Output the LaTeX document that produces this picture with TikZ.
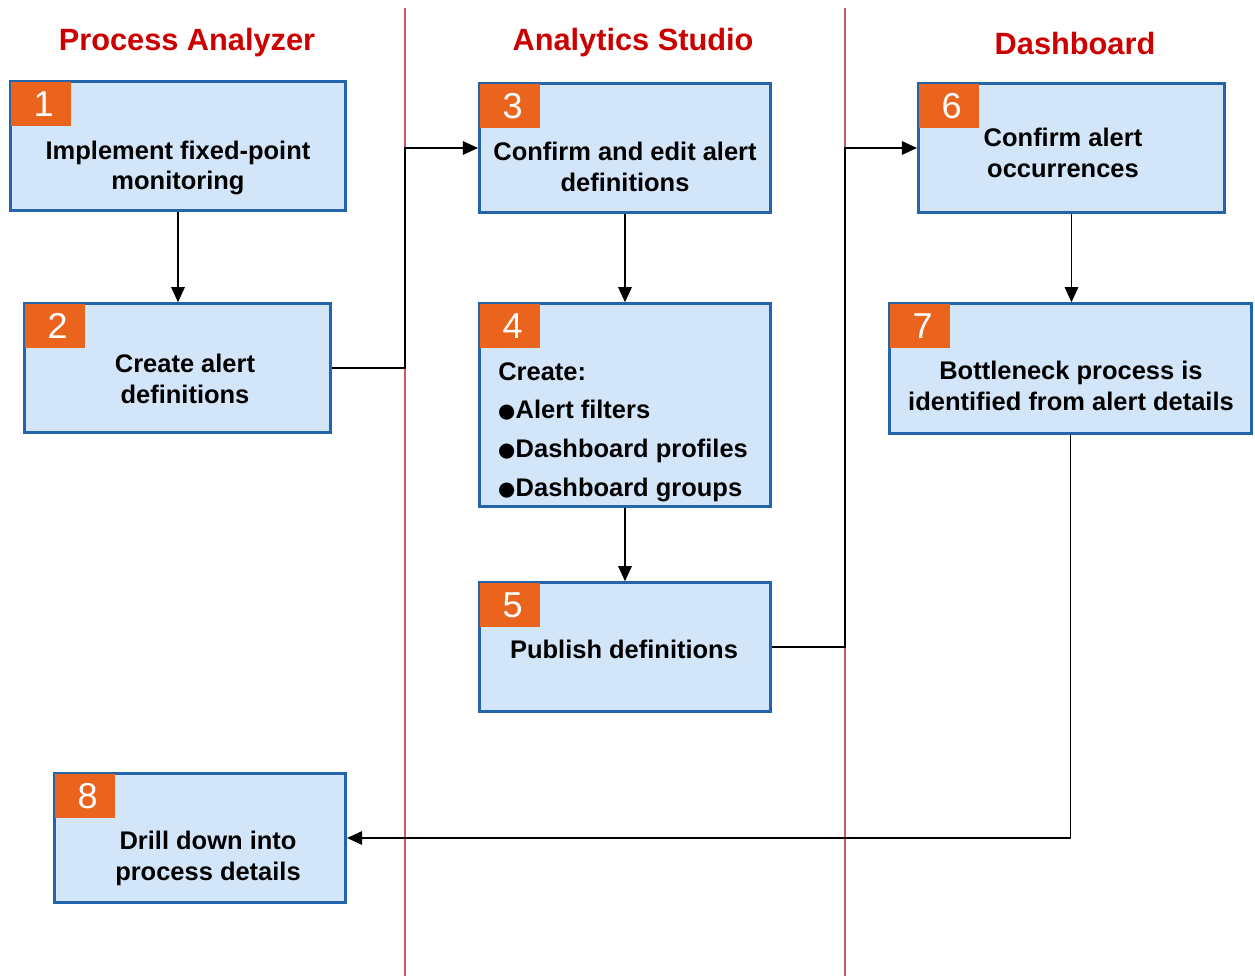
\documentclass[tikz,border=0pt]{standalone}
\usepackage{fontspec}
\setmainfont{Liberation Sans}
\usetikzlibrary{arrows.meta,positioning}
\definecolor{lanered}{RGB}{200,90,100}
\definecolor{titlered}{RGB}{204,0,0}
\definecolor{boxblue}{RGB}{36,100,170}
\definecolor{boxfill}{RGB}{211,229,248}
\definecolor{tagorange}{RGB}{234,100,30}
\newcommand{\bigdot}{{\hspace{-1pt}\fontsize{20}{0}\selectfont\raisebox{-0.2ex}{●}}\hspace{-1.2pt}}

\tikzset{
  stepbox/.style={draw=boxblue, fill=boxfill, line width=1.5pt, minimum height=2.58cm, inner sep=0pt},
  tag/.style={fill=tagorange, text=white, font=\fontsize{20.5}{20}\selectfont, minimum width=1.2cm, minimum height=0.88cm, inner sep=0pt, anchor=north west},
  boxtext/.style={font=\fontsize{14.5}{17.6}\selectfont\bfseries, align=center},
  lanetitle/.style={text=titlered, font=\fontsize{17.5}{20}\selectfont\bfseries},
  lane/.style={draw=lanered, line width=0.6pt},
  arr/.style={line width=0.8pt, -{Triangle[length=0.3cm,width=0.27cm]}}
}

\begin{document}
\begin{tikzpicture}[x=0.02cm,y=-0.02cm]
  \useasboundingbox (0,0) rectangle (1255,976);
  % Lanes
  \draw[lane] (405,8) -- (405,976);
  \draw[lane] (845,8) -- (845,976);
  \coordinate (lane1) at (405,8);
  \coordinate (lane2) at (845,8);
  \node[lanetitle] (pa) at (187,43) {Process Analyzer};
  \node[lanetitle] (as) at (633,43) {Analytics Studio};
  \node[lanetitle] (db) at (1075,44) {Dashboard};
  % Boxes
  \node[stepbox, minimum width=6.71cm] (b1) at (178,146) {};
  \node[stepbox, minimum width=6.13cm] (b2) at (177.5,368) {};
  \node[stepbox, minimum width=5.83cm] (b3) at (625,148) {};
  \node[stepbox, minimum width=5.83cm, minimum height=4.06cm] (b4) at (625,405) {};
  \node[stepbox, minimum width=5.83cm] (b5) at (625,647) {};
  \node[stepbox, minimum width=6.13cm] (b6) at (1071.5,148) {};
  \node[stepbox, minimum width=7.25cm, minimum height=2.6cm] (b7) at (1070.5,368.5) {};
  \node[stepbox, minimum width=5.83cm] (b8) at (200,838) {};
  % Number tags
  \foreach \b/\n in {b1/1,b2/2,b3/3,b4/4,b5/5,b6/6,b7/7,b8/8} {
    \node[tag] (t\n) at ([xshift=0.75pt,yshift=-0.75pt]\b.north west) {\hspace{0.12cm}\n};
  }
  % Box texts
  \node[boxtext] (x1) at (178,168) {Implement fixed-point\\monitoring};
  \node[boxtext] (x2) at (185,378.5) {Create alert\\definitions};
  \node[boxtext] (x3) at (625,166.5) {Confirm and edit alert\\definitions};
  \node[boxtext, font=\fontsize{14.5}{22.1}\selectfont\bfseries, align=left, inner sep=0pt, anchor=north west] (x4) at (498,362)
    {Create:\\\bigdot Alert filters\\\bigdot Dashboard profiles\\\bigdot Dashboard groups};
  \node[boxtext] (x5) at (624,649) {Publish definitions};
  \node[boxtext] (x6) at (1063,153) {Confirm alert\\occurrences};
  \node[boxtext] (x7) at (1071,385.5) {Bottleneck process is\\identified from alert details};
  \node[boxtext] (x8) at (208,858.5) {Drill down into\\process details};
  % Connectors
  \draw[arr] (b1.south) -- (b1.south |- b2.north);
  \draw[arr] (b2.east) -- (b2.east -| lane1) |- (b3.west);
  \draw[arr] (b3.south) -- (b4.north);
  \draw[arr] (b4.south) -- (b5.north);
  \draw[arr] (b5.east) -- (b5.east -| lane2) |- (b6.west);
  \draw[arr] (b6.south) -- (b6.south |- b7.north);
  \draw[arr] (b7.south) |- (b8.east);
\end{tikzpicture}
\end{document}
